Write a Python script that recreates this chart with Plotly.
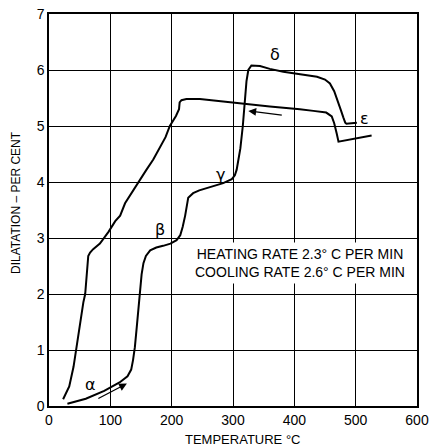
import plotly.graph_objects as go

# Heating curve (alpha -> beta -> gamma -> delta -> epsilon)
heat_T = [30, 60, 90, 115, 128, 134, 137, 140, 143, 147, 151, 154, 158, 165, 175, 186, 198, 208,
          214, 218, 222, 227, 235, 245, 265, 284, 298, 303, 306, 309, 312, 316, 319, 322, 325,
          330, 344, 360, 382, 409, 437, 450, 458, 465, 471, 476, 480, 483, 485, 502]
heat_D = [0.04, 0.13, 0.27, 0.42, 0.53, 0.65, 0.82, 1.05, 1.4, 1.9, 2.35, 2.55, 2.68, 2.78, 2.83,
          2.86, 2.9, 2.96, 3.05, 3.2, 3.4, 3.72, 3.8, 3.85, 3.92, 3.98, 4.05, 4.12, 4.22, 4.4,
          4.6, 5.0, 5.5, 5.8, 6.0, 6.08, 6.07, 6.02, 5.97, 5.93, 5.88, 5.83, 5.76, 5.62, 5.45,
          5.28, 5.15, 5.06, 5.04, 5.06]

# Cooling curve
cool_T = [526, 472, 469, 465, 461, 452, 431, 409, 360, 317, 280, 246, 224, 216, 213, 212, 207,
          200, 197, 190, 181, 170, 159, 143, 124, 116, 108, 97, 83, 72, 67, 64, 62, 59, 56, 50,
          45, 40, 33, 23]
cool_D = [4.83, 4.72, 4.87, 5.05, 5.17, 5.24, 5.27, 5.30, 5.35, 5.40, 5.44, 5.48, 5.48, 5.46,
          5.42, 5.30, 5.18, 5.07, 5.00, 4.80, 4.63, 4.40, 4.22, 3.95, 3.62, 3.40, 3.30, 3.11,
          2.90, 2.80, 2.74, 2.68, 2.40, 2.00, 1.85, 1.45, 1.05, 0.70, 0.35, 0.12]

phase_labels = ["\u03b1", "\u03b2", "\u03b3", "\u03b4", "\u03b5"]
phase_T = [67, 181, 279, 368, 515]
phase_D = [0.39, 3.16, 4.13, 6.27, 5.14]

x_ticks = [0, 100, 200, 300, 400, 500, 600]
y_ticks = [0, 1, 2, 3, 4, 5, 6, 7]

FONT = "Liberation Sans"

fig = go.Figure()
fig.add_trace(go.Scatter(x=heat_T, y=heat_D, mode="lines",
                         line=dict(color="black", width=2), showlegend=False))
fig.add_trace(go.Scatter(x=cool_T, y=cool_D, mode="lines",
                         line=dict(color="black", width=2), showlegend=False))

for lab, t, d in zip(phase_labels, phase_T, phase_D):
    fig.add_annotation(x=t, y=d, text=lab, showarrow=False,
                       font=dict(family="DejaVu Sans", size=16, color="black"))

# direction arrows
fig.add_annotation(x=127, y=0.40, ax=78, ay=0.12, xref="x", yref="y", axref="x", ayref="y",
                   text="", showarrow=True, arrowhead=2, arrowsize=1.2, arrowwidth=1.3,
                   arrowcolor="black")
fig.add_annotation(x=325, y=5.27, ax=382, ay=5.19, xref="x", yref="y", axref="x", ayref="y",
                   text="", showarrow=True, arrowhead=2, arrowsize=1.2, arrowwidth=1.3,
                   arrowcolor="black")

fig.add_annotation(x=410, y=2.56, xref="x", yref="y", showarrow=False,
                   text="HEATING RATE 2.3\u00b0 C PER MIN<br>COOLING RATE 2.6\u00b0 C PER MIN",
                   align="center", bgcolor="white", borderpad=3,
                   font=dict(family=FONT, size=14, color="black"))

# axis titles
fig.add_annotation(x=0.527, y=0, xref="paper", yref="paper", yanchor="top", yshift=-24,
                   text="TEMPERATURE \u00b0C", showarrow=False,
                   font=dict(family=FONT, size=13, color="black"))
fig.add_annotation(x=0, y=0.518, xref="paper", yref="paper", xanchor="center", xshift=-33,
                   text="DILATATION \u2013 PER CENT", showarrow=False, textangle=-90,
                   font=dict(family=FONT, size=12, color="black"))

axis_common = dict(showline=True, mirror=True, linecolor="black", linewidth=1.5,
                   showgrid=True, gridcolor="black", gridwidth=1.2, zeroline=False,
                   automargin=False, ticklabeloverflow="allow",
                   ticks="", tickfont=dict(family=FONT, size=14, color="black"))

fig.update_xaxes(range=[0, 600], tickvals=x_ticks, ticktext=[str(v) for v in x_ticks],
                 **axis_common)
fig.update_yaxes(range=[0, 7], tickvals=y_ticks, ticktext=[str(v) for v in y_ticks],
                 **axis_common)

fig.update_layout(width=430, height=447, margin=dict(l=49, r=13, t=14, b=41),
                  plot_bgcolor="white", paper_bgcolor="white",
                  font=dict(family=FONT, color="black"))

# remove the default 8px page margin so the figure fills the window exactly
fig.write_html("out.html", config={"displayModeBar": False},
               post_script="document.body.style.margin='0';")
